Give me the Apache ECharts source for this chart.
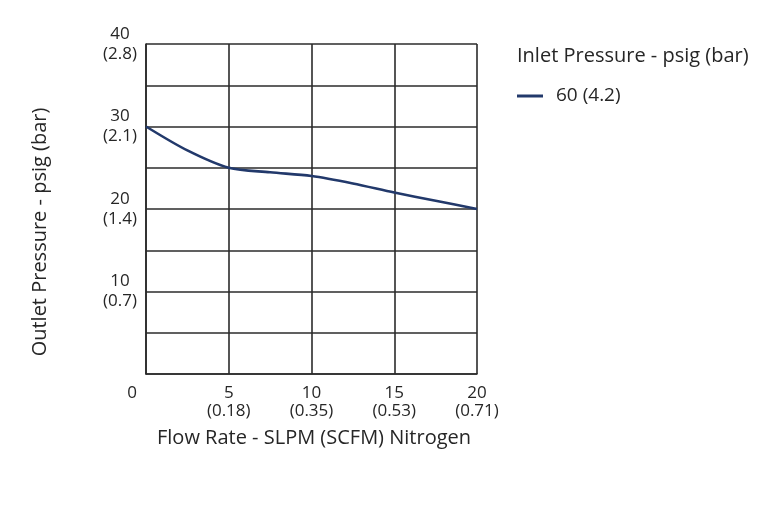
<!DOCTYPE html>
<html>
<head>
<meta charset="utf-8">
<script src="https://cdn.jsdelivr.net/npm/echarts@6/dist/echarts.min.js"></script>
<style>html,body{margin:0;padding:0;background:#fff}#c{width:768px;height:528px}</style>
</head>
<body>
<div id="c"></div>
<script>
const flowRate = [0, 2.5, 5, 7.5, 10, 12.5, 15, 17.5, 20];
const outlet60 = [30, 27.1, 25, 24.45, 24, 23.1, 22, 21, 20];
const xTickBar = {0: '', 5: '0.18', 10: '0.35', 15: '0.53', 20: '0.71'};
const yTickBar = {10: '0.7', 20: '1.4', 30: '2.1', 40: '2.8'};
const seriesName = '60 (4.2)';
const legendTitle = 'Inlet Pressure - psig (bar)';
const xTitle = 'Flow Rate - SLPM (SCFM) Nitrogen';
const yTitle = 'Outlet Pressure - psig (bar)';

const FONT = 'Open Sans';
const TXT = '#262626';
const GRIDC = '#2b2b2b';
const LINEC = '#22396b';

const chart = echarts.init(document.getElementById('c'), null, {renderer: 'canvas'});
chart.setOption({
  animation: false,
  backgroundColor: '#fff',
  textStyle: {fontFamily: FONT},
  title: {
    text: legendTitle, left: 517, top: 46, padding: 0,
    textStyle: {fontFamily: FONT, fontSize: 20, lineHeight: 20, fontWeight: 'normal', color: TXT}
  },
  legend: {
    data: [{name: seriesName, icon: 'rect'}], left: 517, top: 86, padding: 0,
    itemWidth: 26, itemHeight: 3,
    textStyle: {fontFamily: FONT, fontSize: 19, lineHeight: 20, color: TXT, padding: [0, 0, 0, 8]}
  },
  grid: {left: 146, right: 291, top: 44, bottom: 154, containLabel: false},
  xAxis: {
    type: 'value', min: 0, max: 20, interval: 5,
    name: xTitle, nameLocation: 'middle', nameGap: 54,
    nameTextStyle: {fontFamily: FONT, fontSize: 20, lineHeight: 20, color: TXT, padding: [0, 0, 0, 5]},
    axisLine: {show: true, lineStyle: {color: GRIDC, width: 1.6}},
    axisTick: {show: false},
    splitLine: {show: true, lineStyle: {color: GRIDC, width: 1.6}},
    axisLabel: {
      margin: 10, color: TXT, fontFamily: FONT, fontSize: 17, lineHeight: 18,
      formatter: v => v === 0 ? '{z|0}' : v + '\n(' + xTickBar[v] + ')',
      rich: {z: {fontFamily: FONT, fontSize: 17, color: TXT, lineHeight: 18, padding: [0, 28, 0, 0]}}
    }
  },
  yAxis: {
    type: 'value', min: 0, max: 40, interval: 5,
    axisLine: {show: true, lineStyle: {color: GRIDC, width: 1.6}},
    axisTick: {show: false},
    splitLine: {show: true, lineStyle: {color: GRIDC, width: 1.6}},
    axisLabel: {
      margin: 26, align: 'center', color: TXT, fontFamily: FONT, fontSize: 17, lineHeight: 20,
      padding: [2, 0, 0, 0],
      formatter: v => yTickBar[v] ? v + '\n(' + yTickBar[v] + ')' : ''
    }
  },
  graphic: [{
    type: 'text', x: 40, y: 232, rotation: Math.PI / 2,
    style: {text: yTitle, fontFamily: FONT, fontSize: 20, fill: TXT, align: 'center', verticalAlign: 'middle'}
  }],
  series: [{
    name: seriesName, type: 'line', symbol: 'none', showSymbol: false,
    smooth: 0.3,
    data: flowRate.map((x, i) => [x, outlet60[i]]),
    lineStyle: {color: LINEC, width: 2.6},
    itemStyle: {color: LINEC}
  }]
});
</script>
</body>
</html>
